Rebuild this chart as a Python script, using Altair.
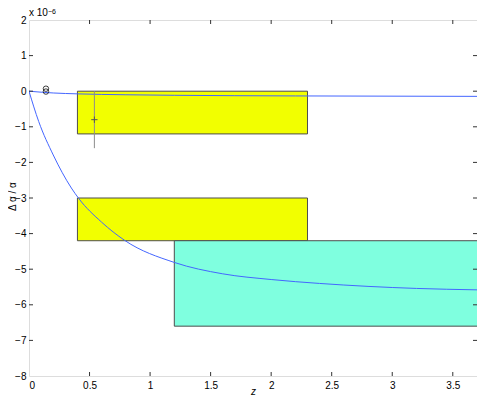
import altair as alt
import pandas as pd

# ---- data ----
# boxes: z range and delta-alpha/alpha range (units of 1e-6)
BOX_Z0 = [0.4, 0.4, 1.2]
BOX_Z1 = [2.3, 2.3, 3.8]
BOX_Y0 = [0.0, -3.0, -4.2]
BOX_Y1 = [-1.2, -4.2, -6.6]
BOX_FILL = ["#f2ff00", "#f2ff00", "#7fffdf"]

# lower model curve
LOW_Z = [0, 0.08, 0.2, 0.35, 0.41, 0.6, 0.79, 1.2, 1.6, 2.0, 2.4, 3.2, 3.7]
LOW_Y = [0, -0.85, -1.79, -2.72, -3.01, -3.68, -4.19, -4.81, -5.13, -5.29, -5.40, -5.54, -5.58]

# upper model curve
UP_Z = [0, 0.2, 0.4, 0.8, 1.2, 2.2, 3.7]
UP_Y = [0, -0.05, -0.075, -0.1, -0.115, -0.133, -0.145]

# circles
CIRC_Z = [0.14, 0.14]
CIRC_Y = [0.07, -0.01]

# data point with error bar
PT_Z = [0.54]
PT_Y = [-0.8]
PT_LO = [-1.6]
PT_HI = [0.0]

XTICKS = [0, 0.5, 1, 1.5, 2, 2.5, 3, 3.5]
YTICKS = [-8, -7, -6, -5, -4, -3, -2, -1, 0, 1, 2]

W, H = 448, 356
TL = 4

xs = alt.Scale(domain=[0, 3.7], nice=False, zero=False)
ys = alt.Scale(domain=[-8, 2], nice=False, zero=False)

boxes = pd.DataFrame({"z0": BOX_Z0, "z1": BOX_Z1, "y0": BOX_Y0, "y1": BOX_Y1, "fill": BOX_FILL})
low = pd.DataFrame({"z": LOW_Z, "y": LOW_Y})
up = pd.DataFrame({"z": UP_Z, "y": UP_Y})
circ = pd.DataFrame({"z": CIRC_Z, "y": CIRC_Y})
pt = pd.DataFrame({"z": PT_Z, "y": PT_Y, "lo": PT_LO, "hi": PT_HI})
xt = pd.DataFrame({"v": XTICKS[1:]})
yt = pd.DataFrame({"v": YTICKS[1:-1]})

xaxis = alt.Axis(values=XTICKS, format="~g", title="z", titleFontStyle="italic",
                 titleFontWeight="normal", titleFontSize=10, titleBaseline="alphabetic",
                 titleY=18, labelPadding=4, grid=False, ticks=False, domain=False,
                 labelFontSize=10, labelColor="#000", titleColor="#000", labelOverlap=False)
yaxis = alt.Axis(values=YTICKS, format="~g", title="Δ α / α", titleFontWeight="normal",
                 titleFontSize=10, titleX=-12, titleY=176, labelPadding=3, grid=False,
                 ticks=False, domain=False, labelFontSize=10, labelColor="#000",
                 titleColor="#000", labelOverlap=False, labelBound=False)

rects = alt.Chart(boxes).mark_rect(stroke="#4d4d4d", strokeWidth=1, clip=True).encode(
    x=alt.X("z0:Q", scale=xs, axis=xaxis), x2="z1:Q",
    y=alt.Y("y0:Q", scale=ys, axis=yaxis), y2="y1:Q",
    fill=alt.Fill("fill:N", scale=None),
)

line_low = alt.Chart(low).mark_line(color="#4466ff", strokeWidth=1, interpolate="monotone", clip=True).encode(
    x=alt.X("z:Q", scale=xs, axis=xaxis), y=alt.Y("y:Q", scale=ys, axis=yaxis))
line_up = alt.Chart(up).mark_line(color="#4466ff", strokeWidth=1, interpolate="monotone", clip=True).encode(
    x=alt.X("z:Q", scale=xs, axis=xaxis), y=alt.Y("y:Q", scale=ys, axis=yaxis))

circles = alt.Chart(circ).mark_point(shape="circle", filled=False, size=30, stroke="#111",
                                     strokeWidth=0.8, opacity=1).encode(
    x=alt.X("z:Q", scale=xs, axis=xaxis), y=alt.Y("y:Q", scale=ys, axis=yaxis))

err = alt.Chart(pt).mark_rule(color="#8c8c8c", strokeWidth=1).encode(
    x=alt.X("z:Q", scale=xs, axis=xaxis), y=alt.Y("lo:Q", scale=ys, axis=yaxis), y2="hi:Q")
cross = alt.Chart(pt).mark_point(shape="M-1,0L1,0M0,-1L0,1", filled=False, size=40,
                                 stroke="#555", strokeWidth=1, opacity=1).encode(
    x=alt.X("z:Q", scale=xs, axis=xaxis), y=alt.Y("y:Q", scale=ys, axis=yaxis))

tick_style = dict(color="#333", strokeWidth=1)
xt_bot = alt.Chart(xt).mark_rule(**tick_style).encode(
    x=alt.X("v:Q", scale=xs, axis=xaxis), y=alt.value(H), y2=alt.value(H - TL))
xt_top = alt.Chart(xt).mark_rule(**tick_style).encode(
    x=alt.X("v:Q", scale=xs, axis=xaxis), y=alt.value(0), y2=alt.value(TL))
yt_left = alt.Chart(yt).mark_rule(**tick_style).encode(
    y=alt.Y("v:Q", scale=ys, axis=yaxis), x=alt.value(0), x2=alt.value(TL))
yt_right = alt.Chart(yt).mark_rule(**tick_style).encode(
    y=alt.Y("v:Q", scale=ys, axis=yaxis), x=alt.value(W), x2=alt.value(W - TL))

one = alt.Data(values=[{"a": 1}])
mult = alt.Chart(one).mark_text(text="x 10", fontSize=10, align="left", baseline="alphabetic",
                                color="#000").encode(x=alt.value(0), y=alt.value(-4))
expo = alt.Chart(one).mark_text(text="−6", fontSize=7, align="left", baseline="alphabetic",
                                color="#000").encode(x=alt.value(19), y=alt.value(-6.5))

chart = alt.layer(
    rects, line_up, line_low, err, cross, circles,
    xt_bot, xt_top, yt_left, yt_right, mult, expo
).properties(
    width=W, height=H,
    autosize=alt.AutoSizeParams(type="none"),
    padding={"left": 21, "top": 12, "right": 0, "bottom": 19},
).configure_view(
    stroke="#333", strokeWidth=1
).configure_axis(
    labelOverlap=False
).configure(
    font="Liberation Sans"
)

chart.save("out.html", embed_options={"renderer": "svg", "actions": False})
